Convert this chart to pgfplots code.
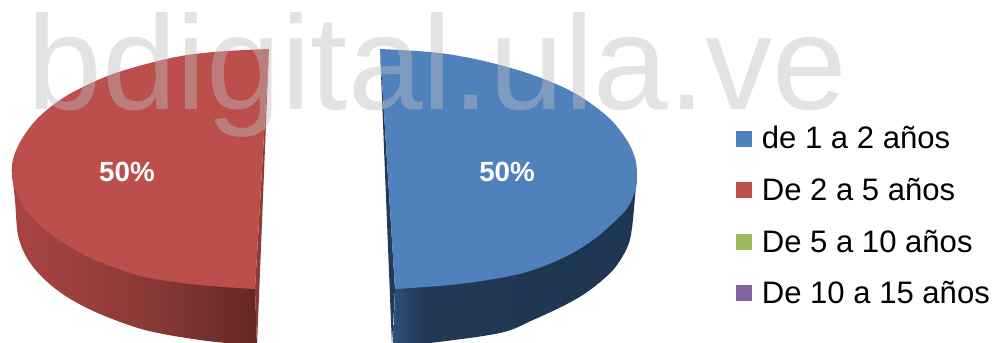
\documentclass[border=0pt]{standalone}
\usepackage{pgfplots}
\pgfplotsset{compat=1.18}
\usepackage{fontspec}
\setmainfont{Liberation Sans}

\definecolor{pieBlue}{HTML}{4F81BD}
\definecolor{pieRed}{HTML}{BC4F4C}
\definecolor{pieGreen}{HTML}{9BBB59}
\definecolor{piePurple}{HTML}{8064A2}
\definecolor{legRed}{HTML}{C0504D}

% rim shadings: the bounding box of a path spans 25bp to 75bp
\pgfdeclarehorizontalshading{redrim}{100bp}{
  rgb(0bp)=(0.66,0.27,0.26);
  rgb(25bp)=(0.66,0.27,0.26);
  rgb(40bp)=(0.60,0.25,0.24);
  rgb(55bp)=(0.53,0.22,0.21);
  rgb(65bp)=(0.46,0.19,0.18);
  rgb(75bp)=(0.40,0.15,0.14);
  rgb(100bp)=(0.40,0.15,0.14)}
\pgfdeclarehorizontalshading{bluerim}{100bp}{
  rgb(0bp)=(0.19,0.31,0.47);
  rgb(25bp)=(0.19,0.31,0.47);
  rgb(31bp)=(0.13,0.22,0.34);
  rgb(75bp)=(0.12,0.21,0.32);
  rgb(100bp)=(0.12,0.21,0.32)}

\begin{document}
\begin{tikzpicture}[x=1pt,y=1pt]
\begin{axis}[
  scale only axis, width=747.75pt, height=257.25pt,
  xmin=0, xmax=997, ymin=0, ymax=343, y dir=reverse,
  ticks=none, axis line style={draw=none},
  legend style={at={(axis cs:736,126)}, anchor=north west, draw=none, fill=none,
    font=\fontsize{23.3pt}{26pt}\selectfont, row sep=20.5pt,
    inner xsep=0pt, inner ysep=0pt,
    nodes={inner xsep=3.5pt, inner ysep=0pt}},
  legend cell align=left,
  legend image code/.code={\fill[#1, draw=none] (0pt,-6pt) rectangle (12pt,6pt);
    \path (15.5pt,0pt);},
]
% rim of the red slice
\addplot[forget plot, shading=redrim, draw=none, smooth, tension=0.55] coordinates {
  (12,173) (15,200) (18,235) (27,258) (43,278) (67,297) (100,314) (145,330) (200,340) (257,346)
} -- (255,289) -- cycle;
% rim of the blue slice
\addplot[forget plot, shading=bluerim, draw=none, smooth, tension=0.55] coordinates {
  (393,346) (430,343) (500,333) (533,320) (567,304) (590,290) (613,270) (627,248) (632,228) (636,185)
} -- (395,289) -- cycle;
% cut faces
\addplot[forget plot, fill=black!25!pieRed, draw=none] coordinates {
  (269,49) (257,346) (255,289) (269,49)} -- cycle;
\addplot[forget plot, fill=black!55!pieBlue, draw=none] coordinates {
  (380,49) (392,346) (395,289) (380,49)} -- cycle;
% top faces
\addplot[forget plot, fill=pieRed, draw=none, smooth, tension=0.55] coordinates {
  (269,49) (227,51) (187,55) (150,63) (110,75) (75,91) (53,105) (36,120) (23,137) (15,153) (12,165) (12,176)
  (15,190) (24,208) (43,228) (67,245) (100,262) (145,277) (200,285) (255,289)
} -- cycle;
\addplot[forget plot, fill=pieBlue, draw=none, smooth, tension=0.55] coordinates {
  (380,49) (430,52) (465,57) (500,65) (533,75) (567,89) (593,105) (613,122) (628,142) (635,158) (637,172)
  (636,188) (628,207) (613,223) (593,240) (567,256) (533,270) (500,278) (450,285) (395,289)
} -- cycle;
% slice labels and site name
\node[text=white, font=\fontsize{20.8pt}{24pt}\selectfont\bfseries] at (axis cs:127,172) {50\%};
\node[text=white, font=\fontsize{20.8pt}{24pt}\selectfont\bfseries] at (axis cs:507,172) {50\%};
\node[anchor=base west, inner sep=0pt, text=black!26, text opacity=0.43,
  font=\fontsize{100.5pt}{110pt}\selectfont] at (axis cs:27.5,109) {bdigital.ula.ve};
% legend keys
\addlegendimage{fill=pieBlue}\addlegendentry{de 1 a 2 años}
\addlegendimage{fill=legRed}\addlegendentry{De 2 a 5 años}
\addlegendimage{fill=pieGreen}\addlegendentry{De 5 a 10 años}
\addlegendimage{fill=piePurple}\addlegendentry{De 10 a 15 años}
\end{axis}
\end{tikzpicture}
\end{document}
